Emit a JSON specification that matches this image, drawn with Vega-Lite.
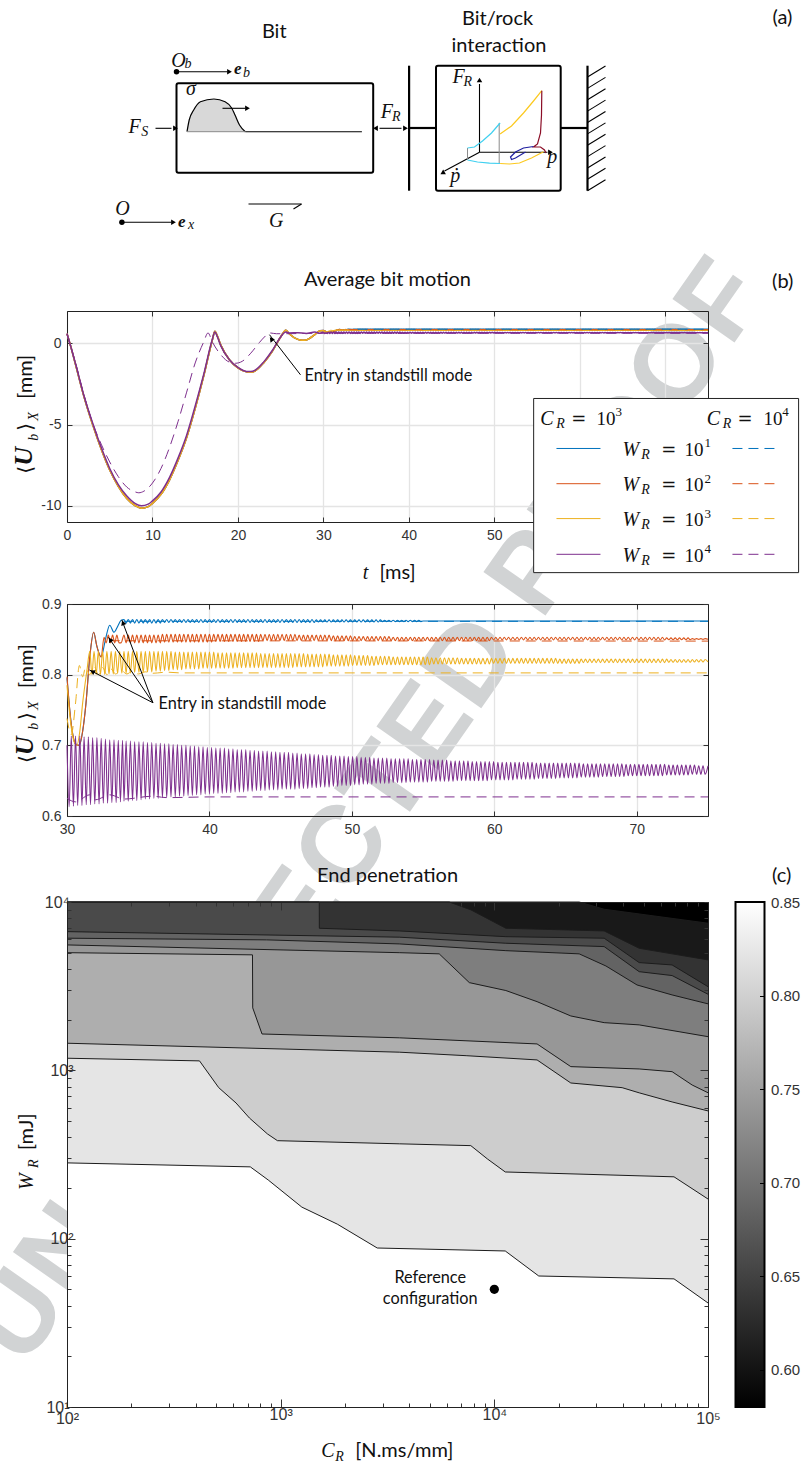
{"$schema":"https://vega.github.io/schema/vega-lite/v6.json","padding":{"left":-49,"top":0,"right":0,"bottom":0},"autosize":{"type":"pad"},"background":"white",
"config":{"view":{"stroke":null},"axis":{"title":null,"labelFont":"Liberation Sans","labelFontSize":14,"labelColor":"#333","domainColor":"#222","tickColor":"#333","labelFlush":false,"labelBound":false,"labelOverlap":false,"grid":false},
"title":{"font":"Lato","fontSize":20,"fontWeight":"normal","color":"#111","anchor":"middle"},
"style":{"sans":{"font":"Lato","fontSize":16.3,"align":"left","baseline":"alphabetic","color":"#111"},"big":{"font":"Lato","fontSize":20,"align":"left","baseline":"alphabetic","color":"#111"},"ital":{"font":"Liberation Serif","fontStyle":"italic","fontSize":20,"align":"left","baseline":"alphabetic","color":"#111"},"sub":{"font":"Liberation Serif","fontStyle":"italic","fontSize":14,"align":"left","baseline":"alphabetic","color":"#111"},"eq":{"font":"DejaVu Serif","fontSize":18,"align":"left","baseline":"alphabetic","color":"#111"},"num":{"font":"Liberation Serif","fontSize":19,"align":"left","baseline":"alphabetic","color":"#111"},"sup":{"font":"Liberation Serif","fontSize":13,"align":"left","baseline":"alphabetic","color":"#111"},"bold":{"font":"Liberation Serif","fontStyle":"italic","fontWeight":"bold","fontSize":17,"align":"left","baseline":"alphabetic","color":"#111"},"rbig":{"font":"Lato","fontSize":20,"align":"left","baseline":"alphabetic","color":"#111","angle":270},"rital":{"font":"Liberation Serif","fontStyle":"italic","fontSize":20,"align":"left","baseline":"alphabetic","color":"#111","angle":270},"rsub":{"font":"Liberation Serif","fontStyle":"italic","fontSize":14,"align":"left","baseline":"alphabetic","color":"#111","angle":270},"ru":{"font":"Liberation Serif","fontStyle":"italic","fontWeight":"bold","fontSize":26,"align":"left","baseline":"alphabetic","color":"#111","angle":270},"req":{"font":"DejaVu Sans","fontSize":20,"align":"left","baseline":"alphabetic","color":"#111","angle":270}}},
"datasets":{
"sol":[{"t":0,"p":0.6,"y":0.6,"r":0.6,"b":0.6},{"t":0.5,"p":-0.3,"y":-0.3,"r":-0.3,"b":-0.3},{"t":1,"p":-1.25,"y":-1.3,"r":-1.3,"b":-1.3},{"t":2,"p":-3.25,"y":-3.3,"r":-3.3,"b":-3.3},{"t":3,"p":-4.9,"y":-5,"r":-5,"b":-5},{"t":4,"p":-6.4,"y":-6.5,"r":-6.5,"b":-6.5},{"t":5,"p":-7.7,"y":-7.8,"r":-7.8,"b":-7.8},{"t":6,"p":-8.7,"y":-8.8,"r":-8.8,"b":-8.8},{"t":7,"p":-9.4,"y":-9.55,"r":-9.55,"b":-9.55},{"t":8,"p":-9.87,"y":-10,"r":-10,"b":-10},{"t":8.7,"p":-10,"y":-10.15,"r":-10.15,"b":-10.15},{"t":9.5,"p":-9.9,"y":-10.05,"r":-10.05,"b":-10.05},{"t":10,"p":-9.7,"y":-9.85,"r":-9.85,"b":-9.85},{"t":11,"p":-9.15,"y":-9.3,"r":-9.3,"b":-9.3},{"t":12,"p":-8.25,"y":-8.4,"r":-8.4,"b":-8.4},{"t":13,"p":-7.05,"y":-7.2,"r":-7.2,"b":-7.2},{"t":14,"p":-5.65,"y":-5.8,"r":-5.8,"b":-5.8},{"t":15,"p":-3.85,"y":-4,"r":-4,"b":-4},{"t":16,"p":-1.9,"y":-2,"r":-2,"b":-2},{"t":17,"p":0.25,"y":0.2,"r":0.2,"b":0.2},{"t":17.3,"p":0.7,"y":0.75,"r":0.75,"b":0.75},{"t":17.6,"p":0.4,"y":0.45,"r":0.45,"b":0.45},{"t":18,"p":-0.15,"y":-0.1,"r":-0.1,"b":-0.1},{"t":19,"p":-1,"y":-1,"r":-1,"b":-1},{"t":20,"p":-1.48,"y":-1.5,"r":-1.5,"b":-1.5},{"t":21,"p":-1.72,"y":-1.75,"r":-1.75,"b":-1.75},{"t":21.5,"p":-1.73,"y":-1.78,"r":-1.78,"b":-1.78},{"t":22,"p":-1.65,"y":-1.7,"r":-1.7,"b":-1.7},{"t":23,"p":-1.15,"y":-1.2,"r":-1.2,"b":-1.2},{"t":24,"p":-0.45,"y":-0.5,"r":-0.5,"b":-0.5},{"t":25,"p":0.4,"y":0.4,"r":0.4,"b":0.4},{"t":25.6,"p":0.7,"y":0.82,"r":0.82,"b":0.82},{"t":26,"p":0.65,"y":0.6,"r":0.6,"b":0.6},{"t":27,"p":0.66,"y":0.25,"r":0.25,"b":0.25},{"t":27.5,"y":0.2,"r":0.2,"b":0.2},{"t":28,"p":0.62,"y":0.22,"r":0.22,"b":0.22},{"t":29,"p":0.7,"y":0.55,"r":0.55,"b":0.55},{"t":29.6,"p":0.63,"y":0.78,"r":0.78,"b":0.78},
{"t":30,"p":0.7,"y":0.785,"r":0.797,"b":0.795},{"t":30.15,"p":0.613},{"t":30.3,"p":0.713,"y":0.725,"r":0.73,"b":0.73},{"t":30.45,"p":0.614},{"t":30.6,"p":0.713,"r":0.702,"b":0.702},{"t":30.5,"y":0.705},{"t":30.75,"p":0.615},{"t":30.7,"y":0.7},{"t":30.85,"r":0.7},{"t":30.87,"b":0.7},{"t":30.9,"p":0.713,"y":0.72},{"t":31.05,"p":0.615},{"t":31.1,"y":0.76,"r":0.72,"b":0.72},{"t":31.2,"p":0.712},{"t":31.33,"r":0.759,"b":0.759},{"t":31.35,"p":0.616},{"t":31.4,"y":0.806},{"t":31.5,"p":0.712},{"t":31.6,"y":0.833,"r":0.825,"b":0.825},{"t":31.65,"p":0.616},{"t":31.75,"y":0.8},{"t":31.8,"p":0.711},{"t":31.87,"r":0.86,"b":0.86},{"t":31.9,"y":0.833},{"t":31.95,"p":0.617},{"t":32.05,"y":0.8},{"t":32.1,"p":0.711,"r":0.84,"b":0.84},{"t":32.2,"y":0.833},{"t":32.25,"p":0.617},{"t":32.35,"y":0.8},{"t":32.4,"p":0.71,"r":0.825,"b":0.825},{"t":32.5,"y":0.833},{"t":32.55,"p":0.618},{"t":32.6,"r":0.853},{"t":32.65,"y":0.8},{"t":32.7,"p":0.709,"b":0.85},{"t":32.75,"r":0.845},{"t":32.8,"y":0.833},{"t":32.85,"p":0.618},{"t":32.9,"r":0.856},{"t":32.95,"y":0.801},{"t":33,"p":0.708,"b":0.87},{"t":33.05,"r":0.845},{"t":33.1,"y":0.833},{"t":33.15,"p":0.619},{"t":33.2,"r":0.856},{"t":33.25,"y":0.801},{"t":33.3,"p":0.708,"b":0.86},{"t":33.35,"r":0.845},{"t":33.4,"y":0.833},{"t":33.45,"p":0.619},{"t":33.5,"r":0.856},{"t":33.55,"y":0.802,"b":0.868},{"t":33.6,"p":0.707},{"t":33.65,"r":0.845},{"t":33.7,"y":0.833},{"t":33.75,"p":0.62},{"t":33.8,"r":0.845,"b":0.877},{"t":33.85,"y":0.802},{"t":33.9,"p":0.707},
{"t":34,"p":0.621,"y":0.833,"r":0.856,"b":0.878},{"t":34.15,"p":0.706,"y":0.802,"r":0.845,"b":0.873},{"t":34.3,"p":0.621,"y":0.833,"r":0.856,"b":0.878},{"t":34.45,"p":0.706,"y":0.802,"r":0.845,"b":0.873},{"t":34.6,"p":0.622,"y":0.833,"r":0.856,"b":0.878},{"t":34.75,"p":0.705,"y":0.803,"r":0.845,"b":0.873},{"t":34.9,"p":0.622,"y":0.833,"r":0.856,"b":0.878},{"t":35.05,"p":0.705,"y":0.803,"r":0.845,"b":0.873},{"t":35.2,"p":0.623,"y":0.833,"r":0.856,"b":0.878},{"t":35.35,"p":0.705,"y":0.803,"r":0.845,"b":0.873},
{"t":35.5,"p":0.624,"y":0.833,"r":0.856,"b":0.878},{"t":35.65,"p":0.704,"y":0.804,"r":0.845,"b":0.873},{"t":35.8,"p":0.624,"y":0.833,"r":0.856,"b":0.878},{"t":35.95,"p":0.704,"y":0.804,"r":0.845,"b":0.873},{"t":36.1,"p":0.625,"y":0.833,"r":0.856,"b":0.878},{"t":36.25,"p":0.703,"y":0.805,"r":0.845,"b":0.873},{"t":36.4,"p":0.625,"y":0.833,"r":0.856,"b":0.878},{"t":36.55,"p":0.703,"y":0.805,"r":0.845,"b":0.873},{"t":36.7,"p":0.626,"y":0.833,"r":0.857,"b":0.878},{"t":36.85,"p":0.702,"y":0.806,"r":0.846,"b":0.874},
{"t":37,"p":0.626,"y":0.833,"r":0.857,"b":0.878},{"t":37.15,"p":0.702,"y":0.806,"r":0.846,"b":0.874},{"t":37.3,"p":0.627,"y":0.833,"r":0.857,"b":0.878},{"t":37.45,"p":0.701,"y":0.807,"r":0.846,"b":0.874},{"t":37.6,"p":0.627,"y":0.832,"r":0.857,"b":0.878},{"t":37.75,"p":0.701,"y":0.807,"r":0.846,"b":0.874},{"t":37.9,"p":0.628,"y":0.832,"r":0.857,"b":0.878},{"t":38.05,"p":0.7,"y":0.807,"r":0.846,"b":0.874},{"t":38.2,"p":0.628,"y":0.832,"r":0.857,"b":0.878},{"t":38.35,"p":0.7,"y":0.808,"r":0.846,"b":0.874},
{"t":38.5,"p":0.629,"y":0.832,"r":0.857,"b":0.878},{"t":38.65,"p":0.699,"y":0.808,"r":0.846,"b":0.874},{"t":38.8,"p":0.629,"y":0.832,"r":0.857,"b":0.878},{"t":38.95,"p":0.699,"y":0.808,"r":0.846,"b":0.874},{"t":39.1,"p":0.63,"y":0.832,"r":0.857,"b":0.878},{"t":39.25,"p":0.698,"y":0.808,"r":0.846,"b":0.874},{"t":39.4,"p":0.63,"y":0.832,"r":0.857,"b":0.878},{"t":39.55,"p":0.698,"y":0.809,"r":0.846,"b":0.874},{"t":39.7,"p":0.631,"y":0.832,"r":0.857,"b":0.878},{"t":39.85,"p":0.697,"y":0.809,"r":0.846,"b":0.874},
{"t":40,"p":0.631,"y":0.832,"r":0.857,"b":0.878},{"t":40.15,"p":0.697,"y":0.809,"r":0.846,"b":0.874},{"t":40.3,"p":0.632,"y":0.832,"r":0.857,"b":0.878},{"t":40.45,"p":0.696,"y":0.809,"r":0.847,"b":0.874},{"t":40.6,"p":0.632,"y":0.831,"r":0.857,"b":0.878},{"t":40.75,"p":0.696,"y":0.809,"r":0.847,"b":0.874},{"t":40.9,"p":0.632,"y":0.831,"r":0.857,"b":0.878},{"t":41.05,"p":0.696,"y":0.809,"r":0.847,"b":0.874},{"t":41.2,"p":0.633,"y":0.831,"r":0.857,"b":0.878},{"t":41.35,"p":0.695,"y":0.809,"r":0.847,"b":0.874},
{"t":41.5,"p":0.633,"y":0.831,"r":0.857,"b":0.878},{"t":41.65,"p":0.695,"y":0.809,"r":0.847,"b":0.874},{"t":41.8,"p":0.634,"y":0.831,"r":0.857,"b":0.878},{"t":41.95,"p":0.694,"y":0.81,"r":0.847,"b":0.874},{"t":42.1,"p":0.634,"y":0.831,"r":0.857,"b":0.878},{"t":42.25,"p":0.694,"y":0.81,"r":0.847,"b":0.874},{"t":42.4,"p":0.634,"y":0.831,"r":0.857,"b":0.878},{"t":42.55,"p":0.694,"y":0.81,"r":0.847,"b":0.874},{"t":42.7,"p":0.635,"y":0.831,"r":0.857,"b":0.878},{"t":42.85,"p":0.693,"y":0.81,"r":0.847,"b":0.874},
{"t":43,"p":0.635,"y":0.831,"r":0.857,"b":0.878},{"t":43.15,"p":0.693,"y":0.81,"r":0.847,"b":0.874},{"t":43.3,"p":0.636,"y":0.831,"r":0.857,"b":0.878},{"t":43.45,"p":0.692,"y":0.81,"r":0.847,"b":0.874},{"t":43.6,"p":0.636,"y":0.83,"r":0.857,"b":0.878},{"t":43.75,"p":0.692,"y":0.81,"r":0.848,"b":0.874},{"t":43.9,"p":0.636,"y":0.83,"r":0.857,"b":0.878},{"t":44.05,"p":0.692,"y":0.81,"r":0.848,"b":0.874},{"t":44.2,"p":0.637,"y":0.83,"r":0.857,"b":0.878},{"t":44.35,"p":0.691,"y":0.81,"r":0.848,"b":0.874},
{"t":44.5,"p":0.637,"y":0.83,"r":0.857,"b":0.878},{"t":44.65,"p":0.691,"y":0.81,"r":0.848,"b":0.874},{"t":44.8,"p":0.637,"y":0.83,"r":0.857,"b":0.878},{"t":44.95,"p":0.69,"y":0.81,"r":0.848,"b":0.874},{"t":45.1,"p":0.638,"y":0.83,"r":0.857,"b":0.878},{"t":45.25,"p":0.69,"y":0.81,"r":0.848,"b":0.874},{"t":45.4,"p":0.638,"y":0.83,"r":0.857,"b":0.878},{"t":45.55,"p":0.69,"y":0.81,"r":0.848,"b":0.874},{"t":45.7,"p":0.638,"y":0.83,"r":0.857,"b":0.878},{"t":45.85,"p":0.689,"y":0.81,"r":0.848,"b":0.874},
{"t":46,"p":0.638,"y":0.83,"r":0.857,"b":0.878},{"t":46.15,"p":0.689,"y":0.811,"r":0.848,"b":0.874},{"t":46.3,"p":0.639,"y":0.83,"r":0.856,"b":0.878},{"t":46.45,"p":0.688,"y":0.811,"r":0.848,"b":0.874},{"t":46.6,"p":0.639,"y":0.83,"r":0.856,"b":0.878},{"t":46.75,"p":0.688,"y":0.811,"r":0.848,"b":0.874},{"t":46.9,"p":0.639,"y":0.829,"r":0.856,"b":0.878},{"t":47.05,"p":0.688,"y":0.811,"r":0.848,"b":0.874},{"t":47.2,"p":0.64,"y":0.829,"r":0.856,"b":0.878},{"t":47.35,"p":0.687,"y":0.811,"r":0.848,"b":0.874},
{"t":47.5,"p":0.64,"y":0.829,"r":0.856,"b":0.8775},{"t":47.65,"p":0.687,"y":0.811,"r":0.848,"b":0.8745},{"t":47.8,"p":0.641,"y":0.829,"r":0.856,"b":0.8775},{"t":47.95,"p":0.686,"y":0.811,"r":0.848,"b":0.8745},{"t":48.1,"p":0.641,"y":0.829,"r":0.856,"b":0.8775},{"t":48.25,"p":0.686,"y":0.812,"r":0.848,"b":0.8745},{"t":48.4,"p":0.641,"y":0.829,"r":0.856,"b":0.8775},{"t":48.55,"p":0.686,"y":0.812,"r":0.848,"b":0.8745},{"t":48.7,"p":0.642,"y":0.828,"r":0.855,"b":0.8775},{"t":48.85,"p":0.685,"y":0.812,"r":0.848,"b":0.8745},
{"t":49,"p":0.642,"y":0.828,"r":0.855,"b":0.8775},{"t":49.15,"p":0.685,"y":0.812,"r":0.848,"b":0.8745},{"t":49.3,"p":0.643,"y":0.828,"r":0.855,"b":0.8775},{"t":49.45,"p":0.685,"y":0.812,"r":0.848,"b":0.8745},{"t":49.6,"p":0.643,"y":0.828,"r":0.855,"b":0.8775},{"t":49.75,"p":0.684,"y":0.812,"r":0.848,"b":0.8745},{"t":49.9,"p":0.643,"y":0.828,"r":0.855,"b":0.8775},{"t":50.05,"p":0.684,"y":0.813,"r":0.848,"b":0.8745},{"t":50.2,"p":0.644,"y":0.827,"r":0.854,"b":0.8775},{"t":50.35,"p":0.684,"y":0.813,"r":0.848,"b":0.8745},
{"t":50.5,"p":0.644,"y":0.827,"r":0.854,"b":0.8775},{"t":50.65,"p":0.683,"y":0.813,"r":0.848,"b":0.8745},{"t":50.8,"p":0.645,"y":0.827,"r":0.854,"b":0.8775},{"t":50.95,"p":0.683,"y":0.813,"r":0.848,"b":0.8745},{"t":51.1,"p":0.645,"y":0.827,"r":0.854,"b":0.8775},{"t":51.25,"p":0.683,"y":0.813,"r":0.848,"b":0.8745},{"t":51.4,"p":0.645,"y":0.826,"r":0.854,"b":0.8775},{"t":51.55,"p":0.682,"y":0.813,"r":0.848,"b":0.8745},{"t":51.7,"p":0.646,"y":0.826,"r":0.854,"b":0.8775},{"t":51.85,"p":0.682,"y":0.814,"r":0.848,"b":0.8745},
{"t":52,"p":0.646,"y":0.826,"r":0.854,"b":0.8775},{"t":52.15,"p":0.682,"y":0.814,"r":0.848,"b":0.875},{"t":52.3,"p":0.646,"y":0.826,"r":0.854,"b":0.877},{"t":52.45,"p":0.682,"y":0.814,"r":0.848,"b":0.875},{"t":52.6,"p":0.646,"y":0.826,"r":0.854,"b":0.877},{"t":52.75,"p":0.681,"y":0.814,"r":0.848,"b":0.875},{"t":52.9,"p":0.647,"y":0.825,"r":0.853,"b":0.877},{"t":53.05,"p":0.681,"y":0.814,"r":0.848,"b":0.875},{"t":53.2,"p":0.647,"y":0.825,"r":0.853,"b":0.877},{"t":53.35,"p":0.681,"y":0.814,"r":0.848,"b":0.875},
{"t":53.5,"p":0.647,"y":0.825,"r":0.853,"b":0.877},{"t":53.65,"p":0.681,"y":0.814,"r":0.848,"b":0.875},{"t":53.8,"p":0.647,"y":0.825,"r":0.853,"b":0.877},{"t":53.95,"p":0.681,"y":0.814,"r":0.848,"b":0.875},{"t":54.1,"p":0.648,"y":0.825,"r":0.853,"b":0.877},{"t":54.25,"p":0.68,"y":0.814,"r":0.848,"b":0.875},{"t":54.4,"p":0.648,"y":0.825,"r":0.853,"b":0.877},{"t":54.55,"p":0.68,"y":0.814,"r":0.848,"b":0.875},{"t":54.7,"p":0.648,"y":0.825,"r":0.853,"b":0.877},{"t":54.85,"p":0.68,"y":0.814,"r":0.848,"b":0.875},
{"t":55,"p":0.648,"y":0.825,"r":0.853,"b":0.876},{"t":55.15,"p":0.68,"y":0.814,"r":0.848},{"t":55.3,"p":0.648,"y":0.825,"r":0.853},{"t":55.45,"p":0.68,"y":0.814,"r":0.848},{"t":55.6,"p":0.649,"y":0.824,"r":0.853},{"t":55.75,"p":0.679,"y":0.815,"r":0.848},{"t":55.9,"p":0.649,"y":0.824,"r":0.853},{"t":56.05,"p":0.679,"y":0.815,"r":0.848},{"t":56.2,"p":0.649,"y":0.824,"r":0.853},{"t":56.35,"p":0.679,"y":0.815,"r":0.848},
{"t":56.5,"p":0.649,"y":0.824,"r":0.853},{"t":56.65,"p":0.679,"y":0.815,"r":0.848},{"t":56.8,"p":0.649,"y":0.824,"r":0.853},{"t":56.95,"p":0.678,"y":0.815,"r":0.848},{"t":57.1,"p":0.649,"y":0.824,"r":0.853},{"t":57.25,"p":0.678,"y":0.815,"r":0.848},{"t":57.4,"p":0.65,"y":0.824,"r":0.853},{"t":57.55,"p":0.678,"y":0.815,"r":0.848},{"t":57.7,"p":0.65,"y":0.823,"r":0.853},{"t":57.85,"p":0.678,"y":0.815,"r":0.848},
{"t":58,"p":0.65,"y":0.823,"r":0.853},{"t":58.15,"p":0.678,"y":0.815,"r":0.848},{"t":58.3,"p":0.65,"y":0.823,"r":0.853},{"t":58.45,"p":0.677,"y":0.815,"r":0.848},{"t":58.6,"p":0.65,"y":0.823,"r":0.853},{"t":58.75,"p":0.677,"y":0.815,"r":0.848},{"t":58.9,"p":0.65,"y":0.823,"r":0.853},{"t":59.05,"p":0.677,"y":0.815,"r":0.848},{"t":59.2,"p":0.65,"y":0.823,"r":0.853},{"t":59.35,"p":0.677,"y":0.815,"r":0.848},
{"t":59.5,"p":0.65,"y":0.823,"r":0.853},{"t":59.65,"p":0.677,"y":0.815,"r":0.848},{"t":59.8,"p":0.651,"y":0.823,"r":0.853},{"t":59.95,"p":0.677,"y":0.816,"r":0.849},{"t":60.1,"p":0.651,"y":0.823,"r":0.853},{"t":60.25,"p":0.676,"y":0.816,"r":0.849},{"t":60.4,"p":0.651,"y":0.823,"r":0.853},{"t":60.55,"p":0.676,"y":0.816,"r":0.849},{"t":60.7,"p":0.651,"y":0.823,"r":0.853},{"t":60.85,"p":0.676,"y":0.816,"r":0.849},
{"t":61,"p":0.651,"y":0.823,"r":0.853},{"t":61.15,"p":0.676,"y":0.816,"r":0.849},{"t":61.3,"p":0.651,"y":0.823,"r":0.853},{"t":61.45,"p":0.676,"y":0.816,"r":0.849},{"t":61.6,"p":0.652,"y":0.823,"r":0.853},{"t":61.75,"p":0.676,"y":0.816,"r":0.849},{"t":61.9,"p":0.652,"y":0.823,"r":0.853},{"t":62.05,"p":0.676,"y":0.816,"r":0.849},{"t":62.2,"p":0.652,"y":0.823,"r":0.853},{"t":62.35,"p":0.676,"y":0.816,"r":0.849},
{"t":62.5,"p":0.652,"y":0.823,"r":0.853},{"t":62.65,"p":0.676,"y":0.816,"r":0.849},{"t":62.8,"p":0.652,"y":0.823,"r":0.853},{"t":62.95,"p":0.675,"y":0.816,"r":0.849},{"t":63.1,"p":0.653,"y":0.823,"r":0.853},{"t":63.25,"p":0.675,"y":0.816,"r":0.849},{"t":63.4,"p":0.653,"y":0.823,"r":0.853},{"t":63.55,"p":0.675,"y":0.816,"r":0.849},{"t":63.7,"p":0.653,"y":0.823,"r":0.853},{"t":63.85,"p":0.675,"y":0.816,"r":0.849},
{"t":64,"p":0.653,"y":0.823,"r":0.853},{"t":64.15,"p":0.675,"y":0.816,"r":0.849},{"t":64.3,"p":0.653,"y":0.823,"r":0.853},{"t":64.45,"p":0.675,"y":0.816,"r":0.849},{"t":64.6,"p":0.654,"y":0.822,"r":0.853},{"t":64.75,"p":0.675,"y":0.816,"r":0.849},{"t":64.9,"p":0.654,"y":0.822,"r":0.853},{"t":65.05,"p":0.675,"y":0.816,"r":0.849},{"t":65.2,"p":0.654,"y":0.822,"r":0.853},{"t":65.35,"p":0.675,"y":0.816,"r":0.849},
{"t":65.5,"p":0.654,"y":0.822,"r":0.853},{"t":65.65,"p":0.675,"y":0.816,"r":0.849},{"t":65.8,"p":0.654,"y":0.822,"r":0.853},{"t":65.95,"p":0.675,"y":0.816,"r":0.849},{"t":66.1,"p":0.655,"y":0.822,"r":0.853},{"t":66.25,"p":0.674,"y":0.817,"r":0.849},{"t":66.4,"p":0.655,"y":0.822,"r":0.853},{"t":66.55,"p":0.674,"y":0.817,"r":0.849},{"t":66.7,"p":0.655,"y":0.822,"r":0.853},{"t":66.85,"p":0.674,"y":0.817,"r":0.849},
{"t":67,"p":0.655,"y":0.822,"r":0.853},{"t":67.15,"p":0.674,"y":0.817,"r":0.849},{"t":67.3,"p":0.655,"y":0.822,"r":0.853},{"t":67.45,"p":0.674,"y":0.817,"r":0.849},{"t":67.6,"p":0.656,"y":0.822,"r":0.853},{"t":67.75,"p":0.674,"y":0.817,"r":0.849},{"t":67.9,"p":0.656,"y":0.822,"r":0.853},{"t":68.05,"p":0.674,"y":0.817,"r":0.849},{"t":68.2,"p":0.656,"y":0.822,"r":0.853},{"t":68.35,"p":0.674,"y":0.817,"r":0.849},
{"t":68.5,"p":0.656,"y":0.822,"r":0.853},{"t":68.65,"p":0.674,"y":0.817,"r":0.849},{"t":68.8,"p":0.656,"y":0.822,"r":0.853},{"t":68.95,"p":0.674,"y":0.817,"r":0.849},{"t":69.1,"p":0.656,"y":0.822,"r":0.853},{"t":69.25,"p":0.673,"y":0.817,"r":0.849},{"t":69.4,"p":0.657,"y":0.822,"r":0.853},{"t":69.55,"p":0.673,"y":0.817,"r":0.849},{"t":69.7,"p":0.657,"y":0.822,"r":0.853},{"t":69.85,"p":0.673,"y":0.817,"r":0.849},
{"t":70,"p":0.657,"y":0.822,"r":0.853},{"t":70.15,"p":0.673,"y":0.817,"r":0.849},{"t":70.3,"p":0.657,"y":0.822,"r":0.853},{"t":70.45,"p":0.673,"y":0.817,"r":0.849},{"t":70.6,"p":0.657,"y":0.822,"r":0.853},{"t":70.75,"p":0.673,"y":0.817,"r":0.849},{"t":70.9,"p":0.657,"y":0.822,"r":0.853},{"t":71.05,"p":0.673,"y":0.817,"r":0.849},{"t":71.2,"p":0.657,"y":0.822,"r":0.853},{"t":71.35,"p":0.673,"y":0.817,"r":0.849},
{"t":71.5,"p":0.657,"y":0.822,"r":0.853},{"t":71.65,"p":0.673,"y":0.817,"r":0.849},{"t":71.8,"p":0.657,"y":0.822,"r":0.853},{"t":71.95,"p":0.673,"y":0.817,"r":0.849},{"t":72.1,"p":0.658,"y":0.822,"r":0.852},{"t":72.25,"p":0.672,"y":0.8175,"r":0.8495},{"t":72.4,"p":0.658,"y":0.8215,"r":0.852},{"t":72.55,"p":0.672,"y":0.8175,"r":0.8495},{"t":72.7,"p":0.658,"y":0.8215,"r":0.852},{"t":72.85,"p":0.672,"y":0.8175,"r":0.8495},
{"t":73,"p":0.658,"y":0.8215,"r":0.852},{"t":73.15,"p":0.672,"y":0.8175,"r":0.8495},{"t":73.3,"p":0.658,"y":0.8215,"r":0.852},{"t":73.45,"p":0.672,"y":0.8175,"r":0.8495},{"t":73.6,"p":0.658,"y":0.8215,"r":0.852},{"t":73.75,"p":0.672,"y":0.8175,"r":0.8495},{"t":73.9,"p":0.659,"y":0.8215,"r":0.851},{"t":74.05,"p":0.672,"y":0.818,"r":0.85},{"t":74.2,"p":0.659,"y":0.8215,"r":0.851},{"t":74.35,"p":0.671,"y":0.818,"r":0.85},
{"t":74.5,"p":0.659,"y":0.8215,"r":0.851},{"t":74.65,"p":0.671,"y":0.818,"r":0.85},{"t":74.8,"p":0.659,"y":0.8215,"r":0.851},{"t":75,"p":0.671,"y":0.818,"r":0.85,"b":0.876}],
"das":[{"t":0,"p":0.6},{"t":0.5,"p":-0.3},{"t":1,"p":-1.2},{"t":2,"p":-3.2},{"t":3,"p":-4.9},{"t":4,"p":-6.2},{"t":5,"p":-7.3},{"t":6,"p":-8.2},{"t":7,"p":-8.85},{"t":8,"p":-9.15},{"t":8.4,"p":-9.2},{"t":9,"p":-9.1},{"t":10,"p":-8.6},{"t":11,"p":-7.7},{"t":12,"p":-6.4},{"t":13,"p":-4.8},{"t":14,"p":-3},{"t":15,"p":-1.2},{"t":16,"p":0.1},{"t":16.5,"p":0.65},{"t":17,"p":0.1},{"t":18,"p":-0.7},{"t":19,"p":-1.15},{"t":19.7,"p":-1.22},{"t":20.5,"p":-1.1},{"t":21.5,"p":-0.6},{"t":22.5,"p":0.05},{"t":23.3,"p":0.5},{"t":23.7,"p":0.65},{"t":24.5,"p":0.6},{"t":30,"p":0.625,"y":0.738},{"t":30.3,"y":0.715},{"t":30.6,"y":0.76,"p":0.62},{"t":30.87,"y":0.813},{"t":31.1,"y":0.797},{"t":31.3,"y":0.81},{"t":31.6,"y":0.8,"p":0.63},{"t":31.9,"y":0.812},{"t":32,"p":0.623},{"t":32.2,"y":0.8},{"t":32.5,"y":0.81},{"t":32.8,"y":0.8},{"t":33,"p":0.63,"r":0.848},{"t":33.1,"y":0.808},{"t":33.4,"y":0.801},{"t":33.8,"y":0.806},{"t":34,"p":0.624,"b":0.8755},{"t":34.2,"y":0.801},{"t":34.6,"y":0.805},{"t":35,"y":0.801},{"t":35.5,"y":0.804},{"t":36,"y":0.802,"p":0.628},{"t":37,"y":0.8035,"p":0.626},{"t":38,"y":0.8025},{"t":40,"y":0.8025,"p":0.627},{"t":75,"y":0.8025,"p":0.627,"r":0.8475,"b":0.8755}],
"txa":[{"x":773,"y":24,"k":"big","s":"(a)"},{"x":262.4,"y":38,"k":"big","s":"Bit"},{"x":462.5,"y":25,"k":"big","s":"Bit/rock"},{"x":452,"y":52,"k":"big","s":"interaction"},{"x":171.8,"y":66.7,"k":"ital","s":"O"},{"x":115.7,"y":215,"k":"ital","s":"O"},{"x":186.6,"y":95,"k":"ital","s":"σ"},{"x":129,"y":133,"k":"ital","s":"F"},{"x":381.3,"y":118.3,"k":"ital","s":"F"},{"x":453,"y":83.3,"k":"ital","s":"F"},{"x":547.7,"y":163,"k":"ital","s":"p"},{"x":450.8,"y":181.7,"k":"ital","s":"ṗ"},{"x":269.6,"y":226.7,"k":"ital","s":"G"},{"x":185,"y":68.3,"k":"sub","s":"b"},{"x":141.7,"y":136,"k":"sub","s":"S"},{"x":392.5,"y":121,"k":"sub","s":"R"},{"x":464,"y":86,"k":"sub","s":"R"},{"x":243.6,"y":77.3,"k":"sub","s":"b"},{"x":188.4,"y":229,"k":"sub","s":"x"},{"x":234.6,"y":74,"k":"bold","s":"e"},{"x":178.5,"y":226.7,"k":"bold","s":"e"}],
"txb":[{"t":82.5,"u":3.43,"k":"big","s":"(b)"},{"t":27.8,"u":-2.3,"k":"sans","s":"Entry in standstill mode"},{"t":36.56,"u":-14.49,"k":"big","s":"[ms]"},{"t":34.6,"u":-14.49,"k":"ital","s":"t"},{"t":55.37,"u":-5.01,"k":"ital","s":"C"},{"t":74.86,"u":-5.01,"k":"ital","s":"C"},{"t":57.24,"u":-5.23,"k":"sub","s":"R"},{"t":76.73,"u":-5.23,"k":"sub","s":"R"},{"t":58.99,"u":-5.01,"k":"eq","s":"="},{"t":78.45,"u":-5.01,"k":"eq","s":"="},{"t":61.95,"u":-5.01,"k":"num","s":"10"},{"t":81.5,"u":-5.01,"k":"num","s":"10"},{"t":64.18,"u":-4.45,"k":"sup","s":"3"},{"t":83.7,"u":-4.45,"k":"sup","s":"4"},
{"t":65,"u":-6.92,"k":"ital","s":"W"},{"t":67.18,"u":-7.11,"k":"sub","s":"R"},{"t":69.52,"u":-6.92,"k":"eq","s":"="},{"t":72.25,"u":-6.92,"k":"num","s":"10"},{"t":74.59,"u":-6.4,"k":"sup","s":"1"},
{"t":65,"u":-9.09,"k":"ital","s":"W"},{"t":67.18,"u":-9.28,"k":"sub","s":"R"},{"t":69.52,"u":-9.09,"k":"eq","s":"="},{"t":72.25,"u":-9.09,"k":"num","s":"10"},{"t":74.59,"u":-8.58,"k":"sup","s":"2"},
{"t":65,"u":-11.26,"k":"ital","s":"W"},{"t":67.18,"u":-11.45,"k":"sub","s":"R"},{"t":69.52,"u":-11.26,"k":"eq","s":"="},{"t":72.25,"u":-11.26,"k":"num","s":"10"},{"t":74.59,"u":-10.75,"k":"sup","s":"3"},
{"t":65,"u":-13.44,"k":"ital","s":"W"},{"t":67.18,"u":-13.63,"k":"sub","s":"R"},{"t":69.52,"u":-13.44,"k":"eq","s":"="},{"t":72.25,"u":-13.44,"k":"num","s":"10"},{"t":74.59,"u":-12.92,"k":"sup","s":"4"},
{"t":-4.04,"u":-8.02,"k":"req","s":"⟨"},{"t":-4.04,"u":-7.53,"k":"ru","s":"U"},{"t":-3.45,"u":-5.99,"k":"rsub","s":"b"},{"t":-4.04,"u":-5.38,"k":"req","s":"⟩"},{"t":-3.45,"u":-4.76,"k":"rsub","s":"X"},{"t":-4.04,"u":-3.41,"k":"rbig","s":"[mm]"}],
"txc":[{"t":36.43,"u":0.751,"k":"sans","s":"Entry in standstill mode"},{"t":27.58,"u":0.675,"k":"req","s":"⟨"},{"t":27.58,"u":0.686,"k":"ru","s":"U"},{"t":27.93,"u":0.722,"k":"rsub","s":"b"},{"t":27.58,"u":0.736,"k":"req","s":"⟩"},{"t":27.93,"u":0.75,"k":"rsub","s":"X"},{"t":27.58,"u":0.781,"k":"rbig","s":"[mm]"}],
"con":[{"k":0,"v":0.58,"c":100,"w":10000},{"k":0,"v":0.58,"c":100000,"w":10000},
{"k":1,"v":0.606,"c":100,"w":10000},{"k":1,"v":0.606,"c":24950,"w":10000},{"k":1,"v":0.606,"c":32660,"w":9057},{"k":1,"v":0.606,"c":100000,"w":7482},
{"k":2,"v":0.634,"c":100,"w":10000},{"k":2,"v":0.634,"c":6152,"w":10000},{"k":2,"v":0.634,"c":7780,"w":8974},{"k":2,"v":0.634,"c":11320,"w":6982},{"k":2,"v":0.634,"c":32660,"w":6730},{"k":2,"v":0.634,"c":47640,"w":5309},{"k":2,"v":0.634,"c":67920,"w":4920},{"k":2,"v":0.634,"c":100000,"w":4529},
{"k":3,"v":0.658,"c":100,"w":10000},{"k":3,"v":0.658,"c":1516,"w":10000},{"k":3,"v":0.658,"c":1517,"w":6982},{"k":3,"v":0.658,"c":3589,"w":6730},{"k":3,"v":0.658,"c":11320,"w":6223},{"k":3,"v":0.658,"c":32660,"w":6095},{"k":3,"v":0.658,"c":47640,"w":4365},{"k":3,"v":0.658,"c":67920,"w":4227},{"k":3,"v":0.658,"c":100000,"w":3141},
{"k":4,"v":0.685,"c":100,"w":6668},{"k":4,"v":0.685,"c":3589,"w":6180},{"k":4,"v":0.685,"c":11320,"w":5689},{"k":4,"v":0.685,"c":32660,"w":5433},{"k":4,"v":0.685,"c":47640,"w":3855},{"k":4,"v":0.685,"c":67920,"w":3656},{"k":4,"v":0.685,"c":100000,"w":2831},
{"k":5,"v":0.713,"c":100,"w":6095},{"k":5,"v":0.713,"c":857,"w":5957},{"k":5,"v":0.713,"c":3589,"w":5636},{"k":5,"v":0.713,"c":11320,"w":5140},{"k":5,"v":0.713,"c":24950,"w":4920},{"k":5,"v":0.713,"c":33270,"w":4169},{"k":5,"v":0.713,"c":46560,"w":3214},{"k":5,"v":0.713,"c":67920,"w":2805},{"k":5,"v":0.713,"c":100000,"w":2483},
{"k":6,"v":0.74,"c":100,"w":5559},{"k":6,"v":0.74,"c":3589,"w":5000},{"k":6,"v":0.74,"c":5521,"w":4920},{"k":6,"v":0.74,"c":7638,"w":3319},{"k":6,"v":0.74,"c":11320,"w":2979},{"k":6,"v":0.74,"c":15850,"w":2559},{"k":6,"v":0.74,"c":22800,"w":2104},{"k":6,"v":0.74,"c":32660,"w":1920},{"k":6,"v":0.74,"c":47640,"w":1862},{"k":6,"v":0.74,"c":100000,"w":1585},
{"k":7,"v":0.764,"c":100,"w":5000},{"k":7,"v":0.764,"c":738,"w":4853},{"k":7,"v":0.764,"c":740,"w":2350},{"k":7,"v":0.764,"c":818,"w":1644},{"k":7,"v":0.764,"c":3589,"w":1560},{"k":7,"v":0.764,"c":15850,"w":1435},{"k":7,"v":0.764,"c":22800,"w":1052},{"k":7,"v":0.764,"c":47640,"w":1019},{"k":7,"v":0.764,"c":67920,"w":982},{"k":7,"v":0.764,"c":84330,"w":818},{"k":7,"v":0.764,"c":100000,"w":736},
{"k":8,"v":0.797,"c":100,"w":1449},{"k":8,"v":0.797,"c":3589,"w":1282},{"k":8,"v":0.797,"c":7379,"w":1222},{"k":8,"v":0.797,"c":15850,"w":1153},{"k":8,"v":0.797,"c":22800,"w":841},{"k":8,"v":0.797,"c":39630,"w":789},{"k":8,"v":0.797,"c":47640,"w":735},{"k":8,"v":0.797,"c":67920,"w":649},{"k":8,"v":0.797,"c":100000,"w":574},
{"k":9,"v":0.8225,"c":100,"w":1180},{"k":9,"v":0.8225,"c":417,"w":1138},{"k":9,"v":0.8225,"c":513,"w":789},{"k":9,"v":0.8225,"c":618,"w":640},{"k":9,"v":0.8225,"c":714,"w":521},{"k":9,"v":0.8225,"c":867,"w":419},{"k":9,"v":0.8225,"c":966,"w":382},{"k":9,"v":0.8225,"c":3589,"w":366},{"k":9,"v":0.8225,"c":7762,"w":357},{"k":9,"v":0.8225,"c":9268,"w":298},{"k":9,"v":0.8225,"c":11250,"w":249},{"k":9,"v":0.8225,"c":69340,"w":233},{"k":9,"v":0.8225,"c":100000,"w":172},
{"k":10,"v":0.85,"c":100,"w":282},{"k":10,"v":0.85,"c":721,"w":267},{"k":10,"v":0.85,"c":875,"w":223},{"k":10,"v":0.85,"c":1256,"w":154},{"k":10,"v":0.85,"c":1841,"w":122},{"k":10,"v":0.85,"c":2831,"w":88},{"k":10,"v":0.85,"c":11250,"w":84.5},{"k":10,"v":0.85,"c":16140,"w":60},{"k":10,"v":0.85,"c":69340,"w":57.7},{"k":10,"v":0.85,"c":100000,"w":41.5}]
},
"bounds":"flush","spacing":82,
"vconcat":[
{"width":735,"height":229,
"encoding":{"x":{"field":"x","type":"quantitative","scale":{"domain":[67.5,802.5],"nice":false,"zero":false},"axis":null},"y":{"field":"y","type":"quantitative","scale":{"domain":[0,229],"reverse":true,"nice":false,"zero":false},"axis":null}},
"layer":[
{"data":{"values":[{"x":723,"y":302,"s":"F"},{"x":678.6,"y":366,"s":"O"},{"x":628.5,"y":438.5,"s":"O"},{"x":580.8,"y":507.5,"s":"R"},{"x":535.8,"y":572.4,"s":"P"},{"x":473.2,"y":662.9,"s":"D"},{"x":428.8,"y":727,"s":"E"},{"x":387.9,"y":786.2,"s":"T"},{"x":344.6,"y":848.6,"s":"C"},{"x":300.2,"y":912.7,"s":"E"},{"x":255.9,"y":976.9,"s":"R"},{"x":209.2,"y":1044.3,"s":"R"},{"x":161.4,"y":1113.3,"s":"O"},{"x":113,"y":1183,"s":"C"},{"x":67,"y":1250,"s":"N"},{"x":20.3,"y":1317,"s":"U"}]},"mark":{"type":"text","font":"Liberation Sans","fontWeight":"bold","fontSize":110,"color":"#d1d3d4","angle":305,"align":"center","baseline":"middle"},"encoding":{"text":{"field":"s"}}},
{"data":{"values":[{"x":177,"x2":373.7,"y":83.3,"y2":172.7},{"x":436.5,"x2":561.2,"y":65.7,"y2":190.7}]},"mark":{"type":"rect","fillOpacity":0,"stroke":"#000","strokeWidth":2,"cornerRadius":2},"encoding":{"x2":{"field":"x2"},"y2":{"field":"y2"}}},
{"data":{"values":[{"x":187.5,"y":131.7},{"x":189.7,"y":120},{"x":194.2,"y":110},{"x":200.9,"y":101.7},{"x":214.4,"y":99},{"x":225.6,"y":101.7},{"x":232.3,"y":108.3},{"x":235.5,"y":115},{"x":240,"y":125},{"x":245.8,"y":131.7}]},"mark":{"type":"area","color":"#c8c8c8","interpolate":"monotone","line":{"color":"#000","strokeWidth":1.2}},"encoding":{"y2":{"datum":131.7}}},
{"data":{"values":[{"x":409.6,"x2":409.6,"y":65.7,"y2":190.7},{"x":409.6,"x2":436.5,"y":128,"y2":128},{"x":561,"x2":588,"y":128,"y2":128},{"x":588,"x2":588,"y":65.7,"y2":190.7}]},"mark":{"type":"rule","color":"#000","strokeWidth":2.2},"encoding":{"x2":{"field":"x2"},"y2":{"field":"y2"}}},
{"data":{"values":[{"x":177,"x2":228,"y":71.7,"y2":71.7},{"x":223,"x2":246,"y":108.3,"y2":108.3},{"x":156,"x2":172,"y":128.3,"y2":128.3},{"x":380,"x2":402,"y":128.3,"y2":128.3},{"x":480,"x2":480,"y":84,"y2":152.3},{"x":480,"x2":548,"y":152.3,"y2":152.3},{"x":480,"x2":445,"y":152.3,"y2":171},{"x":122.4,"x2":172,"y":222.3,"y2":222.3},{"x":249,"x2":302,"y":204,"y2":204},{"x":302,"x2":294,"y":204,"y2":209},{"x":245.8,"x2":362.4,"y":131.7,"y2":131.7},{"x":588,"x2":606,"y":77,"y2":66},{"x":588,"x2":606,"y":88.4,"y2":77.4},{"x":588,"x2":606,"y":99.7,"y2":88.7},{"x":588,"x2":606,"y":111.1,"y2":100.1},{"x":588,"x2":606,"y":122.5,"y2":111.5},{"x":588,"x2":606,"y":133.9,"y2":122.9},{"x":588,"x2":606,"y":145.2,"y2":134.2},{"x":588,"x2":606,"y":156.6,"y2":145.6},{"x":588,"x2":606,"y":168,"y2":157},{"x":588,"x2":606,"y":179.3,"y2":168.3},{"x":588,"x2":606,"y":190.7,"y2":179.7}]},"mark":{"type":"rule","color":"#000","strokeWidth":1.1},"encoding":{"x2":{"field":"x2"},"y2":{"field":"y2"}}},
{"data":{"values":[{"x":468,"x2":468,"y":148,"y2":160},{"x":499.7,"x2":499.7,"y":123,"y2":163},{"x":187.5,"x2":245.8,"y":131.7,"y2":131.7}]},"mark":{"type":"rule","color":"#8a8a8a","strokeWidth":1},"encoding":{"x2":{"field":"x2"},"y2":{"field":"y2"}}},
{"data":{"values":[{"s":"c1","x":468,"y":148},{"s":"c1","x":475,"y":147},{"s":"c1","x":483,"y":141},{"s":"c1","x":492,"y":133},{"s":"c1","x":500.6,"y":123},{"s":"c2","x":468,"y":160},{"s":"c2","x":478,"y":162},{"s":"c2","x":490,"y":163.2},{"s":"c2","x":500.6,"y":163.5},{"s":"y1","x":500.6,"y":134},{"s":"y1","x":512,"y":126},{"s":"y1","x":524,"y":113},{"s":"y1","x":534,"y":101},{"s":"y1","x":542.3,"y":90.7},{"s":"y2","x":500.6,"y":163.5},{"s":"y2","x":510,"y":164},{"s":"y2","x":520,"y":163},{"s":"y2","x":532,"y":158},{"s":"y2","x":544,"y":151.7},{"s":"d","x":542.3,"y":90.7},{"s":"d","x":542,"y":115},{"s":"d","x":541,"y":133},{"s":"d","x":538,"y":144},{"s":"d","x":534,"y":147},{"s":"d","x":541,"y":147},{"s":"d","x":545,"y":150},{"s":"d","x":546.4,"y":153},{"s":"n","x":534,"y":146.5},{"s":"n","x":524,"y":148},{"s":"n","x":516,"y":152},{"s":"n","x":511,"y":157},{"s":"n","x":512,"y":159.5},{"s":"n","x":516,"y":158},{"s":"n","x":526,"y":152}]},"mark":{"type":"line","strokeWidth":1.2},"encoding":{"order":{"value":null},"color":{"field":"s","scale":{"domain":["c1","c2","y1","y2","d","n"],"range":["#3fd0f0","#3fd0f0","#fcc91e","#fcc91e","#8b0d26","#2020a0"]},"legend":null}}},
{"data":{"values":[{"x":230,"y":71.7,"a":90},{"x":248,"y":108.3,"a":90},{"x":176,"y":128.3,"a":90},{"x":376,"y":128.3,"a":-90},{"x":406,"y":128.3,"a":90},{"x":480,"y":80,"a":0},{"x":551,"y":152.3,"a":90},{"x":443,"y":173,"a":-120},{"x":174,"y":222.3,"a":90}]},"mark":{"type":"point","shape":"triangle-up","filled":true,"color":"#000","opacity":1,"size":30},"encoding":{"angle":{"field":"a","type":"quantitative","scale":null}}},
{"data":{"values":[{"x":177,"y":71.7},{"x":122.4,"y":222.3}]},"mark":{"type":"point","filled":true,"color":"#000","opacity":1,"size":30}},
{"data":{"name":"txa"},"transform":[{"filter":"datum.k=='big'"}],"mark":{"type":"text","style":"big"},"encoding":{"text":{"field":"s"}}},
{"data":{"name":"txa"},"transform":[{"filter":"datum.k=='ital'"}],"mark":{"type":"text","style":"ital"},"encoding":{"text":{"field":"s"}}},
{"data":{"name":"txa"},"transform":[{"filter":"datum.k=='sub'"}],"mark":{"type":"text","style":"sub"},"encoding":{"text":{"field":"s"}}},
{"data":{"name":"txa"},"transform":[{"filter":"datum.k=='bold'"}],"mark":{"type":"text","style":"bold"},"encoding":{"text":{"field":"s"}}}
]},
{"width":641,"height":211,"title":{"text":"Average bit motion","offset":-18},
"encoding":{"x":{"field":"t","type":"quantitative","scale":{"domain":[0,75],"nice":false,"zero":false},"axis":null},"y":{"field":"u","type":"quantitative","scale":{"domain":[-11,2],"nice":false,"zero":false},"axis":null}},
"resolve":{"axis":{"x":"independent","y":"independent"}},
"layer":[
{"data":{"values":[{"t":0,"u":0}]},"mark":{"type":"point","opacity":0},"encoding":{"x":{"field":"t","type":"quantitative","scale":{"domain":[0,75],"nice":false,"zero":false},"axis":{"orient":"bottom","values":[0,10,20,30,40,50,60,70],"labelExpr":"datum.value>=60?'':''+datum.value","grid":true,"gridColor":"#e4e4e4","gridWidth":1.3,"tickSize":-5,"labelPadding":11}},"y":{"field":"u","type":"quantitative","scale":{"domain":[-11,2],"nice":false,"zero":false},"axis":{"orient":"left","values":[-10,-5,0],"labelExpr":"''+datum.value","grid":true,"gridColor":"#e4e4e4","gridWidth":1.3,"tickSize":-5,"labelPadding":11}}}},
{"data":{"values":[{"t":0,"u":0}]},"mark":{"type":"point","opacity":0},"encoding":{"x":{"field":"t","type":"quantitative","scale":{"domain":[0,75],"nice":false,"zero":false},"axis":{"orient":"top","values":[0,10,20,30,40,50,60,70],"labels":false,"tickSize":-5}},"y":{"field":"u","type":"quantitative","scale":{"domain":[-11,2],"nice":false,"zero":false},"axis":{"orient":"right","values":[-10,-5,0],"labels":false,"tickSize":-5}}}},
{"data":{"name":"sol"},"transform":[{"fold":["b","r","y","p"],"as":["s","u"]},{"filter":"isValid(datum.u)"}],"mark":{"type":"line","strokeWidth":1.5,"interpolate":"monotone"},"encoding":{"color":{"field":"s","scale":{"domain":["b","r","y","p"],"range":["#0072BD","#D95319","#EDB120","#7E2F8E"]},"legend":null}}},
{"data":{"name":"das"},"transform":[{"fold":["b","r","y","p"],"as":["s","u"]},{"filter":"isValid(datum.u)"}],"mark":{"type":"line","strokeWidth":1,"strokeDash":[10,6],"interpolate":"monotone"},"encoding":{"color":{"field":"s","scale":{"domain":["b","r","y","p"],"range":["#0072BD","#D95319","#EDB120","#7E2F8E"]},"legend":null}}},
{"data":{"values":[{"t":27.32,"t2":23.69,"u":-1.93,"u2":0.54}]},"mark":{"type":"rule","color":"#000","strokeWidth":1},"encoding":{"x2":{"field":"t2"},"y2":{"field":"u2"}}},
{"data":{"values":[{"t":23.9,"u":0.27,"a":-37.8}]},"mark":{"type":"point","shape":"triangle-up","filled":true,"color":"#000","opacity":1,"size":30},"encoding":{"angle":{"field":"a","type":"quantitative","scale":null}}},
{"data":{"values":[{"t":54.6,"t2":85.6,"u":-3.39,"u2":-14.12}]},"mark":{"type":"rect","fill":"#fff","stroke":"#222","strokeWidth":1},"encoding":{"x2":{"field":"t2"},"y2":{"field":"u2"}}},
{"data":{"values":[{"t":57.27,"t2":62.42,"u":-6.47,"s":"b"},{"t":57.27,"t2":62.42,"u":-8.64,"s":"r"},{"t":57.27,"t2":62.42,"u":-10.79,"s":"y"},{"t":57.27,"t2":62.42,"u":-12.99,"s":"p"}]},"mark":{"type":"rule","strokeWidth":1},"encoding":{"x2":{"field":"t2"},"color":{"field":"s","scale":{"domain":["b","r","y","p"],"range":["#0072BD","#D95319","#EDB120","#7E2F8E"]},"legend":null}}},
{"data":{"values":[{"t":77.86,"t2":83.01,"u":-6.47,"s":"b"},{"t":77.86,"t2":83.01,"u":-8.64,"s":"r"},{"t":77.86,"t2":83.01,"u":-10.79,"s":"y"},{"t":77.86,"t2":83.01,"u":-12.99,"s":"p"}]},"mark":{"type":"rule","strokeWidth":1,"strokeDash":[10,6]},"encoding":{"x2":{"field":"t2"},"color":{"field":"s","scale":{"domain":["b","r","y","p"],"range":["#0072BD","#D95319","#EDB120","#7E2F8E"]},"legend":null}}},
{"data":{"name":"txb"},"transform":[{"filter":"datum.k=='big'"}],"mark":{"type":"text","style":"big"},"encoding":{"text":{"field":"s"}}},
{"data":{"name":"txb"},"transform":[{"filter":"datum.k=='sans'"}],"mark":{"type":"text","style":"sans"},"encoding":{"text":{"field":"s"}}},
{"data":{"name":"txb"},"transform":[{"filter":"datum.k=='ital'"}],"mark":{"type":"text","style":"ital"},"encoding":{"text":{"field":"s"}}},
{"data":{"name":"txb"},"transform":[{"filter":"datum.k=='sub'"}],"mark":{"type":"text","style":"sub"},"encoding":{"text":{"field":"s"}}},
{"data":{"name":"txb"},"transform":[{"filter":"datum.k=='eq'"}],"mark":{"type":"text","style":"eq"},"encoding":{"text":{"field":"s"}}},
{"data":{"name":"txb"},"transform":[{"filter":"datum.k=='num'"}],"mark":{"type":"text","style":"num"},"encoding":{"text":{"field":"s"}}},
{"data":{"name":"txb"},"transform":[{"filter":"datum.k=='sup'"}],"mark":{"type":"text","style":"sup"},"encoding":{"text":{"field":"s"}}},
{"data":{"name":"txb"},"transform":[{"filter":"datum.k=='req'"}],"mark":{"type":"text","style":"req"},"encoding":{"text":{"field":"s"}}},
{"data":{"name":"txb"},"transform":[{"filter":"datum.k=='ru'"}],"mark":{"type":"text","style":"ru"},"encoding":{"text":{"field":"s"}}},
{"data":{"name":"txb"},"transform":[{"filter":"datum.k=='rsub'"}],"mark":{"type":"text","style":"rsub"},"encoding":{"text":{"field":"s"}}},
{"data":{"name":"txb"},"transform":[{"filter":"datum.k=='rbig'"}],"mark":{"type":"text","style":"rbig"},"encoding":{"text":{"field":"s"}}}
]},
{"width":641,"height":212,
"encoding":{"x":{"field":"t","type":"quantitative","scale":{"domain":[30,75],"nice":false,"zero":false},"axis":null},"y":{"field":"u","type":"quantitative","scale":{"domain":[0.6,0.9],"nice":false,"zero":false},"axis":null}},
"resolve":{"axis":{"x":"independent","y":"independent"}},
"layer":[
{"data":{"values":[{"t":30,"u":0.7}]},"mark":{"type":"point","opacity":0},"encoding":{"x":{"field":"t","type":"quantitative","scale":{"domain":[30,75],"nice":false,"zero":false},"axis":{"orient":"bottom","values":[30,40,50,60,70],"grid":true,"gridColor":"#e4e4e4","gridWidth":1.3,"tickSize":-5,"labelPadding":11}},"y":{"field":"u","type":"quantitative","scale":{"domain":[0.6,0.9],"nice":false,"zero":false},"axis":{"orient":"left","values":[0.6,0.7,0.8,0.9],"format":".1f","grid":true,"gridColor":"#e4e4e4","gridWidth":1.3,"tickSize":-5,"labelPadding":11}}}},
{"data":{"values":[{"t":30,"u":0.7}]},"mark":{"type":"point","opacity":0},"encoding":{"x":{"field":"t","type":"quantitative","scale":{"domain":[30,75],"nice":false,"zero":false},"axis":{"orient":"top","values":[30,40,50,60,70],"labels":false,"tickSize":-5}},"y":{"field":"u","type":"quantitative","scale":{"domain":[0.6,0.9],"nice":false,"zero":false},"axis":{"orient":"right","values":[0.6,0.7,0.8,0.9],"labels":false,"tickSize":-5}}}},
{"data":{"name":"sol"},"transform":[{"filter":"datum.t>=30"},{"fold":["b","r","y","p"],"as":["s","u"]},{"filter":"isValid(datum.u)"}],"mark":{"type":"line","strokeWidth":1.1,"interpolate":"monotone"},"encoding":{"color":{"field":"s","scale":{"domain":["b","r","y","p"],"range":["#0072BD","#D95319","#EDB120","#7E2F8E"]},"legend":null}}},
{"data":{"name":"das"},"transform":[{"filter":"datum.t>=30"},{"fold":["b","r","y","p"],"as":["s","u"]},{"filter":"isValid(datum.u)"}],"mark":{"type":"line","strokeWidth":1,"strokeDash":[10,6],"interpolate":"monotone"},"encoding":{"color":{"field":"s","scale":{"domain":["b","r","y","p"],"range":["#0072BD","#D95319","#EDB120","#7E2F8E"]},"legend":null}}},
{"data":{"values":[{"t":36.03,"t2":31.58,"u":0.7603,"u2":0.8066},{"t":36.03,"t2":32.91,"u":0.7603,"u2":0.8529},{"t":36.03,"t2":33.85,"u":0.7603,"u2":0.8774}]},"mark":{"type":"rule","color":"#000","strokeWidth":1},"encoding":{"x2":{"field":"t2"},"y2":{"field":"u2"}}},
{"data":{"values":[{"t":31.78,"u":0.8045,"a":-62.7},{"t":33.03,"u":0.8495,"a":-34},{"t":33.93,"u":0.8735,"a":-20.5}]},"mark":{"type":"point","shape":"triangle-up","filled":true,"color":"#000","opacity":1,"size":30},"encoding":{"angle":{"field":"a","type":"quantitative","scale":null}}},
{"data":{"name":"txc"},"transform":[{"filter":"datum.k=='sans'"}],"mark":{"type":"text","style":"sans"},"encoding":{"text":{"field":"s"}}},
{"data":{"name":"txc"},"transform":[{"filter":"datum.k=='req'"}],"mark":{"type":"text","style":"req"},"encoding":{"text":{"field":"s"}}},
{"data":{"name":"txc"},"transform":[{"filter":"datum.k=='ru'"}],"mark":{"type":"text","style":"ru"},"encoding":{"text":{"field":"s"}}},
{"data":{"name":"txc"},"transform":[{"filter":"datum.k=='rsub'"}],"mark":{"type":"text","style":"rsub"},"encoding":{"text":{"field":"s"}}},
{"data":{"name":"txc"},"transform":[{"filter":"datum.k=='rbig'"}],"mark":{"type":"text","style":"rbig"},"encoding":{"text":{"field":"s"}}}
]},
{"bounds":"flush","spacing":0,"vconcat":[
{"width":1,"height":4,"data":{"values":[{"a":1}]},"mark":{"type":"point","opacity":0}},
{"bounds":"flush","spacing":27.5,"hconcat":[
{"width":641,"height":505,"title":{"text":"End penetration","offset":-20},
"encoding":{"x":{"field":"c","type":"quantitative","scale":{"type":"log","domain":[100,100000],"nice":false},"axis":null},"y":{"field":"w","type":"quantitative","scale":{"type":"log","domain":[10,10000],"nice":false},"axis":null}},
"resolve":{"axis":{"x":"independent","y":"independent"}},
"layer":[
{"data":{"values":[{"c":100,"w":10}]},"mark":{"type":"point","opacity":0},"encoding":{"x":{"field":"c","type":"quantitative","scale":{"type":"log","domain":[100,100000],"nice":false},"axis":{"orient":"bottom","zindex":1,"values":[100,200,300,400,500,600,700,800,900,1000,2000,3000,4000,5000,6000,7000,8000,9000,10000,20000,30000,40000,50000,60000,70000,80000,90000,100000],"labelExpr":"datum.value==100?'10²':datum.value==1000?'10³':datum.value==10000?'10⁴':datum.value==100000?'10⁵':''","tickSize":{"condition":{"test":"datum.value==1000||datum.value==10000","value":-8},"value":-4},"labelPadding":7,"labelFontSize":16}},"y":{"field":"w","type":"quantitative","scale":{"type":"log","domain":[10,10000],"nice":false},"axis":{"orient":"left","zindex":1,"values":[10,20,30,40,50,60,70,80,90,100,200,300,400,500,600,700,800,900,1000,2000,3000,4000,5000,6000,7000,8000,9000,10000],"labelExpr":"datum.value==10?'10¹':datum.value==100?'10²':datum.value==1000?'10³':datum.value==10000?'10⁴':''","tickSize":{"condition":{"test":"datum.value==100||datum.value==1000","value":-8},"value":-4},"labelPadding":2,"labelFontSize":16}}}},
{"data":{"name":"con"},"mark":{"type":"area"},"encoding":{"y":{"field":"w","type":"quantitative","stack":null},"y2":{"datum":10},"detail":{"field":"k"},"color":{"field":"v","type":"quantitative","scale":{"domain":[0.58,0.85],"range":["#000000","#ffffff"],"interpolate":"rgb"},"legend":null}}},
{"data":{"name":"con"},"transform":[{"filter":"datum.k>0"}],"mark":{"type":"line","color":"#1c1c1c","strokeWidth":1},"encoding":{"detail":{"field":"k"}}},
{"data":{"values":[{"c":10000,"w":50}]},"mark":{"type":"point","filled":true,"color":"#000","opacity":1,"size":85}},
{"data":{"values":[{"c":199500,"w":13150,"s":"(c)"}]},"mark":{"type":"text","style":"big"},"encoding":{"text":{"field":"s"}}},
{"data":{"values":[{"c":5012,"w":54.6,"s":"Reference"},{"c":5012,"w":40.9,"s":"configuration"}]},"mark":{"type":"text","style":"sans","align":"center"},"encoding":{"text":{"field":"s"}}},
{"data":{"values":[{"c":2234,"w":5.05,"s":"[N.ms/mm]"}]},"mark":{"type":"text","style":"big"},"encoding":{"text":{"field":"s"}}},
{"data":{"values":[{"c":1549,"w":5.05,"s":"C"}]},"mark":{"type":"text","style":"ital"},"encoding":{"text":{"field":"s"}}},
{"data":{"values":[{"c":1803,"w":4.78,"s":"R"}]},"mark":{"type":"text","style":"sub"},"encoding":{"text":{"field":"s"}}},
{"data":{"values":[{"c":69,"w":194.5,"s":"W"}]},"mark":{"type":"text","style":"rital"},"encoding":{"text":{"field":"s"}}},
{"data":{"values":[{"c":72.8,"w":263,"s":"R"}]},"mark":{"type":"text","style":"rsub"},"encoding":{"text":{"field":"s"}}},
{"data":{"values":[{"c":69,"w":336,"s":"[mJ]"}]},"mark":{"type":"text","style":"rbig"},"encoding":{"text":{"field":"s"}}},
{"data":{"values":[{"c":100,"w":10}]},"mark":{"type":"point","opacity":0},"encoding":{"x":{"field":"c","type":"quantitative","scale":{"type":"log","domain":[100,100000],"nice":false},"axis":{"orient":"top","zindex":1,"values":[100,200,300,400,500,600,700,800,900,1000,2000,3000,4000,5000,6000,7000,8000,9000,10000,20000,30000,40000,50000,60000,70000,80000,90000,100000],"labels":false,"tickSize":{"condition":{"test":"datum.value==1000||datum.value==10000","value":-8},"value":-4}}},"y":{"field":"w","type":"quantitative","scale":{"type":"log","domain":[10,10000],"nice":false},"axis":{"orient":"right","zindex":1,"values":[10,20,30,40,50,60,70,80,90,100,200,300,400,500,600,700,800,900,1000,2000,3000,4000,5000,6000,7000,8000,9000,10000],"labels":false,"tickSize":{"condition":{"test":"datum.value==100||datum.value==1000","value":-8},"value":-4}}}}}
]},
{"width":29,"height":505,"data":{"values":[{"a":0.58,"b":0.85}]},"mark":{"type":"rect","stroke":"#000","strokeWidth":2,"color":{"gradient":"linear","x1":0,"y1":1,"x2":0,"y2":0,"stops":[{"offset":0,"color":"#000000"},{"offset":1,"color":"#ffffff"}]}},
"encoding":{"y":{"field":"a","type":"quantitative","scale":{"domain":[0.58,0.85],"nice":false,"zero":false},"axis":{"orient":"right","zindex":1,"values":[0.6,0.65,0.7,0.75,0.8,0.85],"format":".2f","domain":false,"tickSize":-5,"tickColor":"#000","labelFontSize":15,"labelPadding":11}},"y2":{"field":"b"}}}
]}
]}
]}
